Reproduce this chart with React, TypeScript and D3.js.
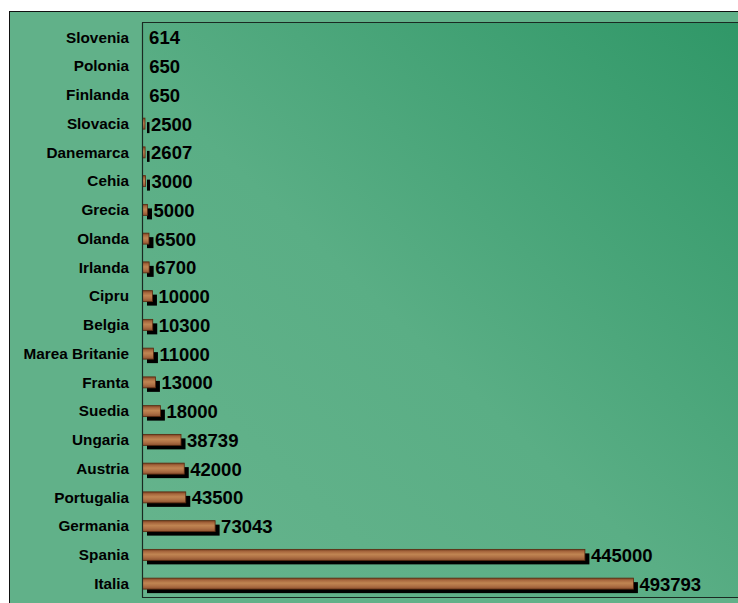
import React from "react";
import * as d3 from "d3";

const countries = ["Slovenia","Polonia","Finlanda","Slovacia","Danemarca","Cehia","Grecia","Olanda","Irlanda","Cipru","Belgia","Marea Britanie","Franta","Suedia","Ungaria","Austria","Portugalia","Germania","Spania","Italia"];
const values = [614,650,650,2500,2607,3000,5000,6500,6700,10000,10300,11000,13000,18000,38739,42000,43500,73043,445000,493793];
const xDomainMax = 600000;

export default function App() {
  const W = 738, H = 603;
  const plotL = 142.5, plotT = 22.5, plotB = 597.5, plotR = 739;
  const x = d3.scaleLinear().domain([0, xDomainMax]).range([plotL, plotR]);
  const y = d3.scaleBand<string>().domain(countries).range([plotT, plotB]);
  const barH = 11;
  const font = "'Liberation Sans', Arial, sans-serif";
  return (
    <svg width={W} height={H} style={{ position: "absolute", left: 0, top: 0, background: "#fff" }}>
      <defs>
        <linearGradient id="plotGrad" x1="0" y1="1" x2="1" y2="0">
          <stop offset="0" stopColor="#66b48d" />
          <stop offset="0.45" stopColor="#5aae85" />
          <stop offset="1" stopColor="#2f9767" />
        </linearGradient>
        <linearGradient id="wood" x1="0" y1="0" x2="0" y2="1">
          <stop offset="0" stopColor="#7a4020" />
          <stop offset="0.2" stopColor="#a8683e" />
          <stop offset="0.45" stopColor="#c08552" />
          <stop offset="0.7" stopColor="#b07246" />
          <stop offset="1" stopColor="#8e5230" />
        </linearGradient>
      </defs>
      <rect x={9.5} y={11.5} width={W + 10} height={H + 10} fill="#61b189" stroke="#111" strokeWidth={1} />
      <rect x={plotL} y={plotT} width={plotR - plotL + 10} height={plotB - plotT} fill="url(#plotGrad)" stroke="#1a2a22" strokeWidth={1} />
      {countries.map((c, i) => {
        const cy = (y(c) as number) + y.bandwidth() / 2 + 0.5;
        const x0 = x(0);
        const x1 = x(values[i]);
        const w = x1 - x0;
        return (
          <g key={c}>
            {w >= 1.5 && (
              <>
                <rect x={x0 + 4.5} y={cy - barH / 2 + 4} width={w} height={barH} fill="#000" />
                <rect x={x0} y={cy - barH / 2} width={w} height={barH} fill="url(#wood)" stroke="#5a2a10" strokeWidth={0.8} />
              </>
            )}
            <text x={x1 + 6} y={cy + 7} fontFamily={font} fontWeight="bold" fontSize={18.5} fill="#000">{values[i]}</text>
            <text x={129} y={cy + 5.3} textAnchor="end" fontFamily={font} fontWeight="bold" fontSize={15.3} fill="#000">{c}</text>
          </g>
        );
      })}
      <line x1={plotL} x2={plotL} y1={plotT} y2={plotB} stroke="#1a2a22" strokeWidth={1.2} />
    </svg>
  );
}
